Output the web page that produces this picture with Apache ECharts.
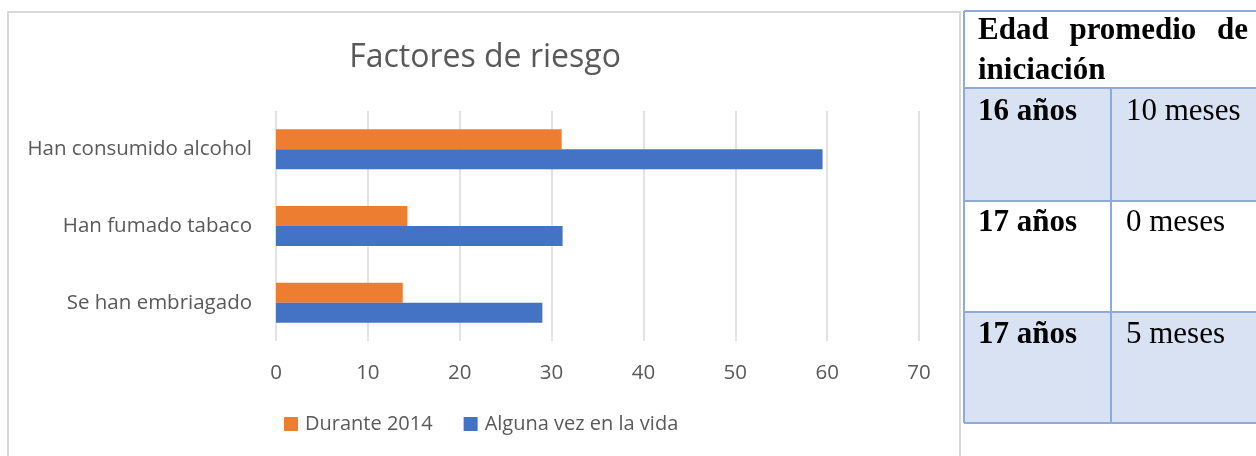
<!DOCTYPE html>
<html>
<head>
    <meta charset="utf-8">
    <title>Factores de riesgo</title>
    <script src="https://cdn.jsdelivr.net/npm/echarts@6/dist/echarts.min.js"></script>
    <style>
        html, body { margin: 0; padding: 0; background: #fff; }
    </style>
</head>
<body>
    <div id="main" style="width: 1256px; height: 456px;"></div>
    <script>
        // datos del grafico
        var categories = ['Han consumido alcohol', 'Han fumado tabaco', 'Se han embriagado'];
        var durante2014 = [31.1, 14.3, 13.8];
        var algunaVez = [59.5, 31.2, 29.0];
        var seriesNames = ['Durante 2014', 'Alguna vez en la vida'];

        // tabla de la derecha
        var tableHeader = ['Edad promedio de', 'iniciación'];
        var tableAges = ['16 años', '17 años', '17 años'];
        var tableMonths = ['10 meses', '0 meses', '5 meses'];

        var chartDom = document.getElementById('main');
        var myChart = echarts.init(chartDom);

        var gray = '#595959';
        var font = '"Open Sans", sans-serif';
        var serif = '"Liberation Serif", "Times New Roman", serif';
        var tblBorder = '#8eaadb';
        var tblFill = '#d9e2f3';
        var tblSize = 31;

        // medir texto para justificar la primera linea del encabezado
        var ctx = document.createElement('canvas').getContext('2d');
        ctx.font = 'bold ' + tblSize + 'px ' + serif;
        var words = tableHeader[0].split(' ');
        var widths = words.map(function (w) { return ctx.measureText(w).width; });
        var sum = widths.reduce(function (a, b) { return a + b; }, 0);
        var jLeft = 978, jRight = 1248;
        var gap = (jRight - jLeft - sum) / (words.length - 1);

        var graphics = [];
        // marco del grafico
        graphics.push({
            type: 'rect', shape: { x: 8, y: 12, width: 952, height: 470 },
            style: { fill: 'none', stroke: '#d9d9d9', lineWidth: 2 }, z: -10
        });

        // filas de la tabla
        var rowTops = [88, 201, 312];
        var rowBottom = 423;
        var tblLeft = 964, tblRight = 1262, colX = 1111;
        rowTops.forEach(function (top, i) {
            var bottom = i < rowTops.length - 1 ? rowTops[i + 1] : rowBottom;
            graphics.push({
                type: 'rect', shape: { x: tblLeft, y: top, width: tblRight - tblLeft, height: bottom - top },
                style: { fill: i % 2 === 0 ? tblFill : '#fff' }
            });
        });
        // lineas de la tabla
        var hl = [11, 88, 201, 312, 423];
        hl.forEach(function (y) {
            graphics.push({ type: 'line', shape: { x1: tblLeft, y1: y, x2: tblRight, y2: y },
                style: { stroke: tblBorder, lineWidth: 2 }, z: 5 });
        });
        graphics.push({ type: 'line', shape: { x1: tblLeft, y1: 11, x2: tblLeft, y2: 423 },
            style: { stroke: tblBorder, lineWidth: 2 }, z: 5 });
        graphics.push({ type: 'line', shape: { x1: colX, y1: 88, x2: colX, y2: 423 },
            style: { stroke: tblBorder, lineWidth: 2 }, z: 5 });

        // encabezado
        var boldFont = 'bold ' + tblSize + 'px ' + serif;
        var xw = jLeft;
        words.forEach(function (w, i) {
            graphics.push({ type: 'text', x: xw, y: 31, z: 6,
                style: { text: w, font: boldFont, fill: '#000', verticalAlign: 'middle' } });
            xw += widths[i] + gap;
        });
        graphics.push({ type: 'text', x: jLeft, y: 71, z: 6,
            style: { text: tableHeader[1], font: boldFont, fill: '#000', verticalAlign: 'middle' } });

        var rowText = [112, 223, 335];
        tableAges.forEach(function (t, i) {
            graphics.push({ type: 'text', x: 978, y: rowText[i], z: 6,
                style: { text: t, font: boldFont, fill: '#000', verticalAlign: 'middle' } });
            graphics.push({ type: 'text', x: 1126, y: rowText[i], z: 6,
                style: { text: tableMonths[i], font: tblSize + 'px ' + serif, fill: '#000', verticalAlign: 'middle' } });
        });

        var option = {
            animation: false,
            title: {
                text: 'Factores de riesgo',
                left: 480,
                textAlign: 'center',
                top: 37,
                textStyle: { fontFamily: font, fontSize: 32, fontWeight: 'normal', color: gray }
            },
            legend: {
                data: seriesNames,
                left: 284,
                top: 414,
                padding: 0,
                icon: 'rect',
                itemWidth: 14,
                itemHeight: 14,
                itemGap: 31,
                textStyle: { fontFamily: font, fontSize: 20, color: gray, padding: [0, 0, 0, 2] }
            },
            grid: {
                left: 276,
                right: 337,
                top: 111,
                bottom: 115,
                containLabel: false,
                outerBoundsMode: 'none'
            },
            xAxis: {
                type: 'value',
                min: 0,
                max: 70,
                interval: 10,
                axisLine: { show: false },
                axisTick: { show: false },
                axisLabel: { fontFamily: font, fontSize: 20.5, color: gray, margin: 22 },
                splitLine: { show: true, lineStyle: { color: '#d9d9d9', width: 1.5 } }
            },
            yAxis: {
                type: 'category',
                data: categories,
                inverse: true,
                axisLine: { show: false },
                axisTick: { show: false },
                axisLabel: { fontFamily: font, fontSize: 20.5, color: gray, margin: 24 }
            },
            series: [
                {
                    name: seriesNames[0],
                    type: 'bar',
                    data: durante2014,
                    barWidth: 20,
                    barGap: '0%',
                    itemStyle: { color: '#ed7d31' }
                },
                {
                    name: seriesNames[1],
                    type: 'bar',
                    data: algunaVez,
                    barWidth: 20,
                    barGap: '0%',
                    itemStyle: { color: '#4472c4' }
                }
            ],
            graphic: graphics
        };

        myChart.setOption(option);
    </script>
</body>
</html>
